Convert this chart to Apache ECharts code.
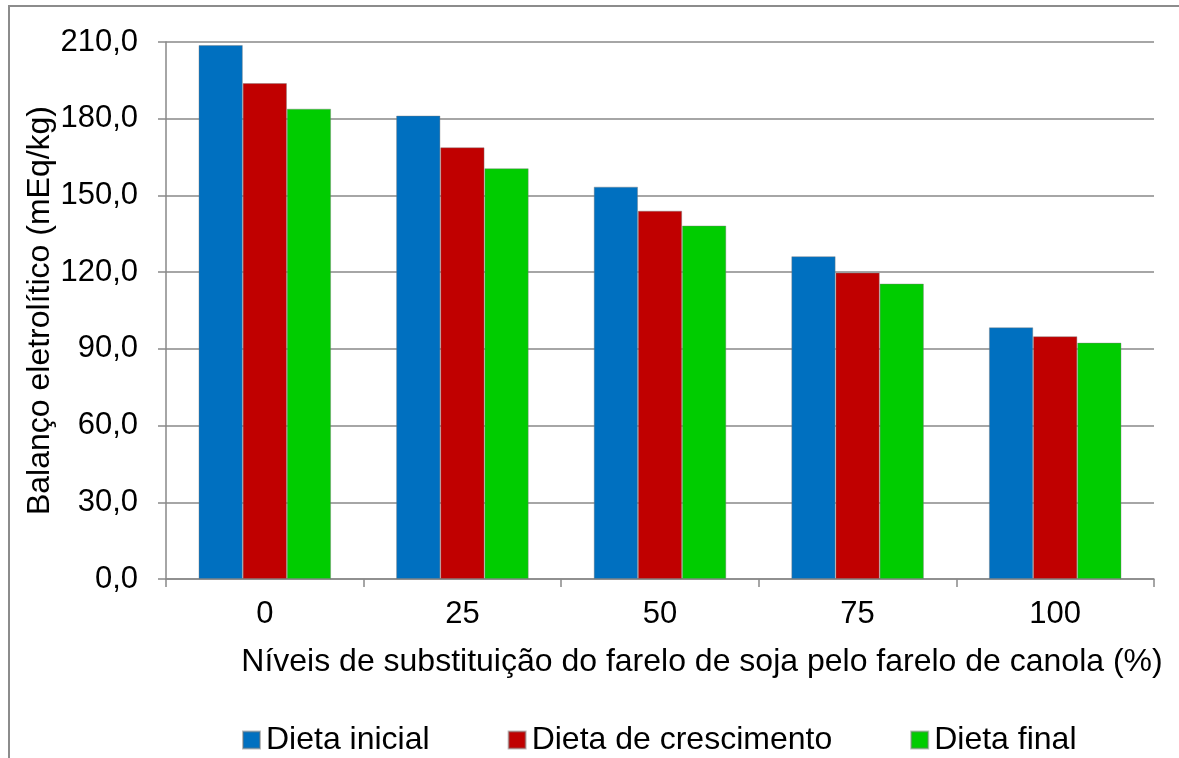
<!DOCTYPE html>
<html>
<head>
<meta charset="utf-8">
<script src="https://cdn.jsdelivr.net/npm/echarts@6/dist/echarts.min.js"></script>
<style>
  html, body { margin: 0; padding: 0; background: #ffffff; }
  #chart { width: 1179px; height: 758px; }
</style>
</head>
<body>
<div id="chart"></div>
<script>
// Níveis de substituição (categorias do eixo X)
const categories = ['0', '25', '50', '75', '100'];

// Balanço eletrolítico (mEq/kg) por fase de dieta
const dietaInicial = [208.8, 181.2, 153.4, 126.2, 98.4];
const dietaCrescimento = [193.9, 168.8, 144.0, 119.8, 94.9];
const dietaFinal = [183.9, 160.6, 138.2, 115.5, 92.4];

const seriesNames = ['Dieta inicial', 'Dieta de crescimento', 'Dieta final'];
const seriesColors = ['#0070C0', '#C00000', '#00CC00'];

const FONT = '"Liberation Sans", Arial, sans-serif';
const GRAY = '#898989';

const chart = echarts.init(document.getElementById('chart'), null, { renderer: 'canvas' });

const dataSets = [dietaInicial, dietaCrescimento, dietaFinal];

chart.setOption({
  backgroundColor: '#ffffff',
  animation: false,
  textStyle: { fontFamily: FONT },
  graphic: [{
    type: 'rect',
    shape: { x: 9, y: 6, width: 1200, height: 800 },
    style: { fill: 'none', stroke: '#8c8c8c', lineWidth: 2 },
    silent: true
  }],
  title: {
    text: 'Níveis de substituição do farelo de soja pelo farelo de canola (%)',
    left: 697,
    top: 641,
    textAlign: 'center',
    textStyle: { fontFamily: FONT, fontSize: 32, fontWeight: 'normal', color: '#000' }
  },
  legend: {
    data: seriesNames,
    top: 719,
    left: 237,
    itemWidth: 17,
    itemHeight: 17,
    itemGap: 78,
    icon: 'rect',
    textStyle: { fontFamily: FONT, fontSize: 32, color: '#000', padding: [0, 0, 0, 1] }
  },
  grid: { left: 166, right: 25, top: 42, bottom: 179, containLabel: false },
  xAxis: {
    type: 'category',
    data: categories,
    axisLine: { lineStyle: { color: GRAY, width: 1.5 } },
    axisTick: { show: true, length: 8, alignWithLabel: false, lineStyle: { color: GRAY, width: 1.5 } },
    axisLabel: { fontFamily: FONT, fontSize: 31, color: '#000', margin: 20 },
    splitLine: { show: false }
  },
  yAxis: {
    type: 'value',
    min: 0,
    max: 210,
    interval: 30,
    name: 'Balanço eletrolítico (mEq/kg)',
    nameLocation: 'middle',
    nameGap: 110,
    nameMoveOverlap: false,
    nameRotate: 90,
    nameTextStyle: { fontFamily: FONT, fontSize: 32, color: '#000' },
    axisLine: { show: true, lineStyle: { color: GRAY, width: 1.5 } },
    axisTick: { show: true, length: 8, lineStyle: { color: GRAY, width: 1.5 } },
    axisLabel: {
      fontFamily: FONT, fontSize: 31, color: '#000', margin: 28,
      formatter: v => v.toFixed(1).replace('.', ',')
    },
    splitLine: { show: true, lineStyle: { color: GRAY, width: 1.5 } }
  },
  series: dataSets.map((d, i) => ({
    name: seriesNames[i],
    type: 'bar',
    data: d,
    barGap: '0%',
    barCategoryGap: '33%',
    itemStyle: { color: seriesColors[i], borderColor: 'rgba(120,120,120,0.5)', borderWidth: 0.8 }
  }))
});
</script>
</body>
</html>
